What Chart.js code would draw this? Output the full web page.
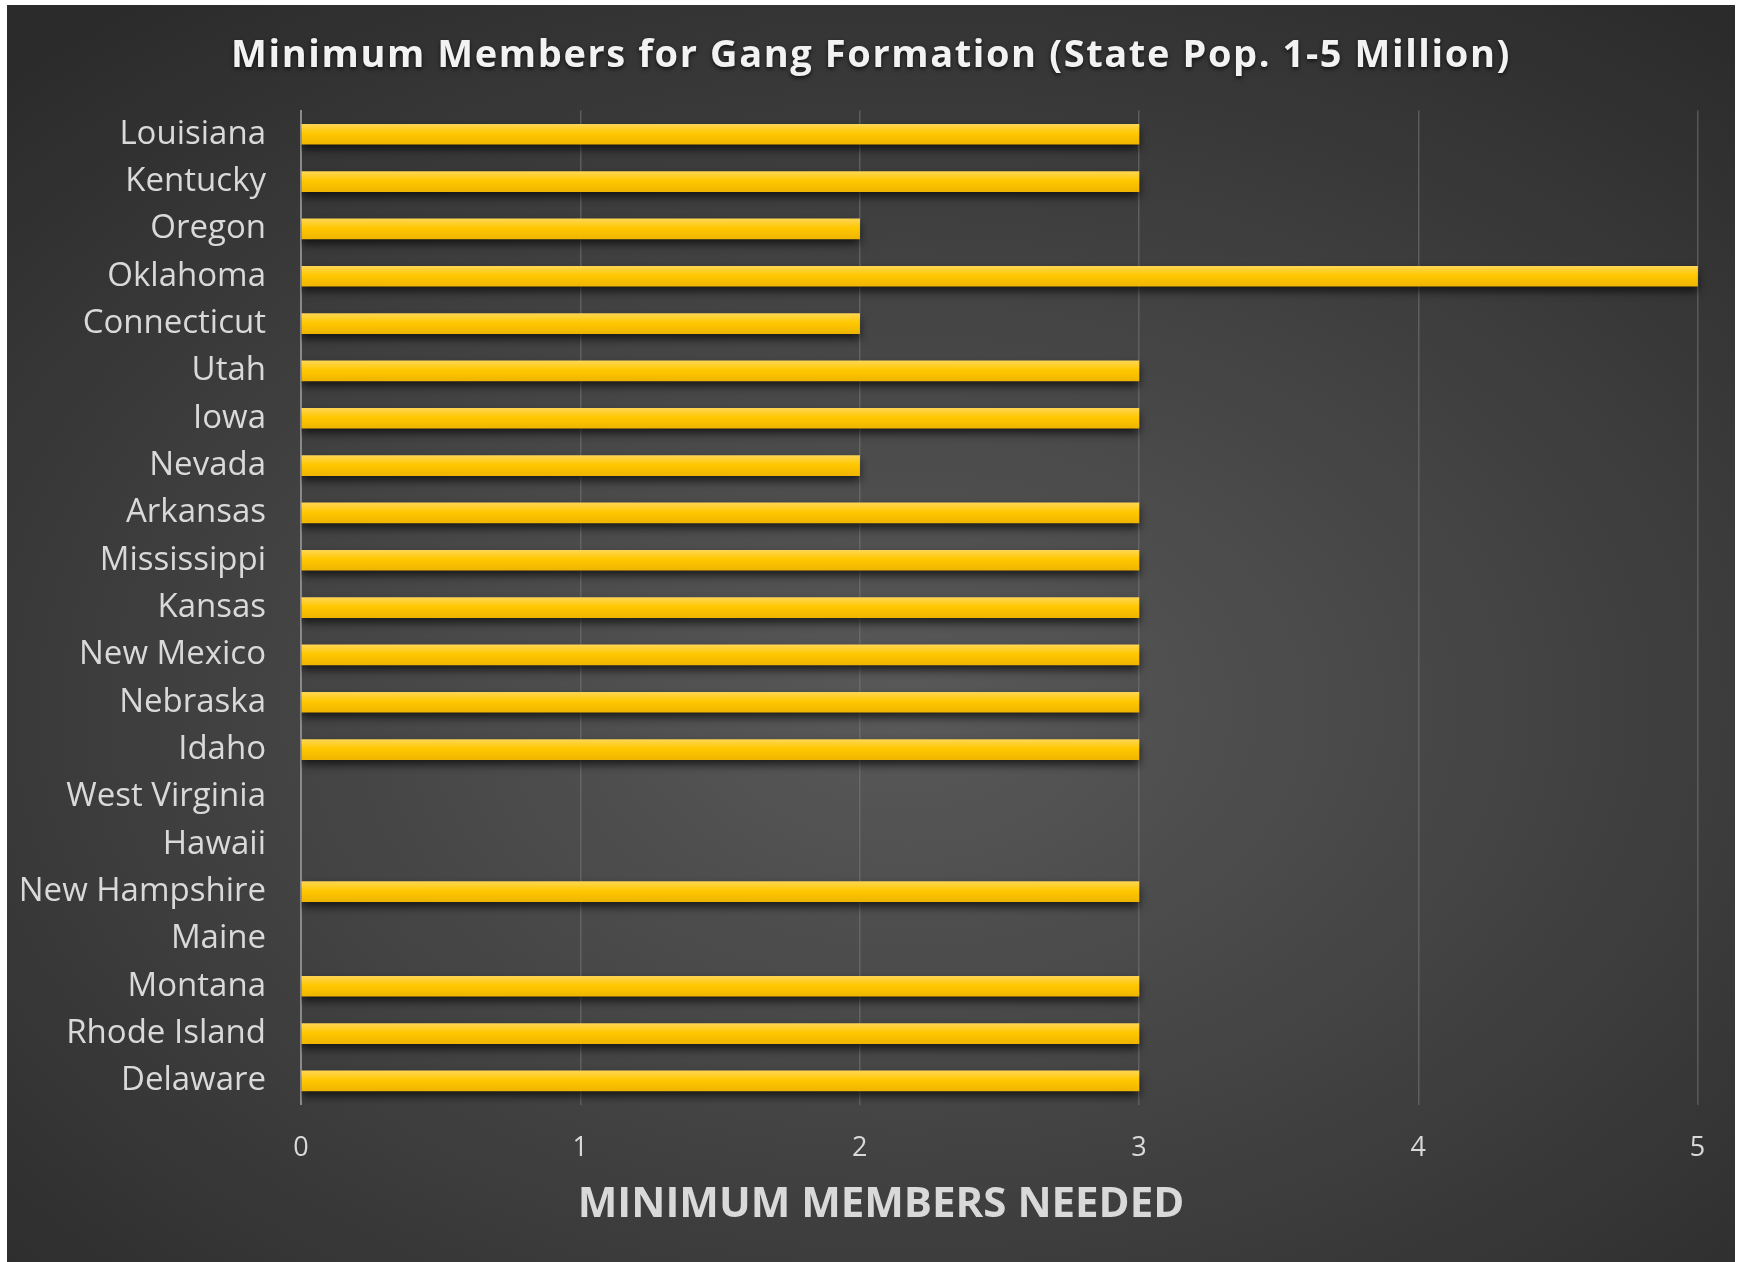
<!DOCTYPE html>
<html>
<head>
<meta charset="utf-8">
<title>Minimum Members for Gang Formation</title>
<script src="https://cdn.jsdelivr.net/npm/chart.js@4"></script>
<style>
    body { margin: 0; background: #fff; }
    #wrap {
        position: absolute;
        left: 7px;
        top: 5px;
        width: 1728px;
        height: 1257px;
        background: radial-gradient(ellipse 75% 70% at 52% 56%, #595959 0%, #474747 40%, #2b2b2b 100%);
    }
</style>
</head>
<body>
<div id="wrap"><canvas id="chart" width="1728" height="1257"></canvas></div>
<script>
const states = [
    'Louisiana', 'Kentucky', 'Oregon', 'Oklahoma', 'Connecticut', 'Utah', 'Iowa',
    'Nevada', 'Arkansas', 'Mississippi', 'Kansas', 'New Mexico', 'Nebraska', 'Idaho',
    'West Virginia', 'Hawaii', 'New Hampshire', 'Maine', 'Montana', 'Rhode Island', 'Delaware'
];
// null = no minimum listed
const minMembers = [3, 3, 2, 5, 2, 3, 3, 2, 3, 3, 3, 3, 3, 3, null, null, 3, null, 3, 3, 3];
const xTicks = [0, 1, 2, 3, 4, 5];

const labelColor = '#d9d9d9';

// wrap a layout box's draw so it gets its own canvas state
function wrapDraw(box, setup) {
    if (!box || box._wrapped) return;
    const orig = box.draw;
    box.draw = function(area) {
        const ctx = this.ctx;
        ctx.save();
        setup(ctx);
        orig.call(this, area);
        ctx.restore();
    };
    box._wrapped = true;
}

const effects = {
    id: 'effects',
    afterLayout(chart) {
        // letter spaced title with a soft shadow
        wrapDraw(chart.titleBlock, ctx => {
            ctx.letterSpacing = '1.6px';
            ctx.shadowColor = 'rgba(0,0,0,0.7)';
            ctx.shadowBlur = 4;
            ctx.shadowOffsetY = 2;
        });
        // axis title sits a bit right of centre in the original
        const sub = chart.boxes.find(b => b !== chart.titleBlock && b.options && b.options.text === 'MINIMUM MEMBERS NEEDED');
        wrapDraw(sub, ctx => ctx.translate(10, 0));
    },
    beforeDatasetsDraw(chart) {
        const ctx = chart.ctx;
        ctx.save();
        ctx.shadowColor = 'rgba(0,0,0,0.65)';
        ctx.shadowBlur = 8;
        ctx.shadowOffsetY = 5;
    },
    afterDatasetsDraw(chart) {
        chart.ctx.restore();
    }
};

function barFill(c) {
    const chart = c.chart;
    if (!chart.chartArea) return '#ffc400';
    const y = chart.scales.y.getPixelForValue(c.dataIndex);
    const g = chart.ctx.createLinearGradient(0, y - 10, 0, y + 10);
    g.addColorStop(0, '#ffd552');
    g.addColorStop(0.45, '#ffc800');
    g.addColorStop(1, '#efb500');
    return g;
}

new Chart(document.getElementById('chart'), {
    type: 'bar',
    data: {
        labels: states,
        datasets: [{
            data: minMembers,
            backgroundColor: barFill,
            barThickness: 20,
            borderWidth: 0
        }]
    },
    options: {
        indexAxis: 'y',
        responsive: false,
        animation: false,
        layout: { padding: 0 },
        plugins: {
            legend: { display: false },
            tooltip: { enabled: false },
            title: {
                display: true,
                text: 'Minimum Members for Gang Formation (State Pop. 1-5 Million)',
                color: '#f2f2f2',
                font: { family: '"Open Sans", sans-serif', size: 38, weight: 'bold', lineHeight: 1.2 },
                padding: { top: 28, bottom: 32 }
            },
            subtitle: {
                display: true,
                position: 'bottom',
                text: 'MINIMUM MEMBERS NEEDED',
                color: labelColor,
                font: { family: '"Open Sans", sans-serif', size: 42, weight: 'bold', lineHeight: 1.2 },
                padding: { top: 0, bottom: 32 }
            }
        },
        scales: {
            x: {
                min: 0,
                max: 5.134,
                afterBuildTicks(scale) {
                    scale.ticks = xTicks.map(v => ({ value: v }));
                },
                afterFit(scale) { scale.height = 75; },
                grid: {
                    color: c => c.index === 0 ? 'rgba(0,0,0,0)' : 'rgba(120,120,120,0.55)',
                    lineWidth: 1.5,
                    drawTicks: false
                },
                border: { display: false },
                ticks: {
                    color: labelColor,
                    padding: 28,
                    font: { family: '"Open Sans", sans-serif', size: 27 }
                }
            },
            y: {
                afterFit(scale) { scale.width = 294; },
                grid: { display: false, drawTicks: false },
                border: { display: true, color: '#8a8a8a', width: 2 },
                ticks: {
                    color: labelColor,
                    padding: 35,
                    font: { family: '"Open Sans", sans-serif', size: 33 }
                }
            }
        }
    },
    plugins: [effects]
});
</script>
</body>
</html>
